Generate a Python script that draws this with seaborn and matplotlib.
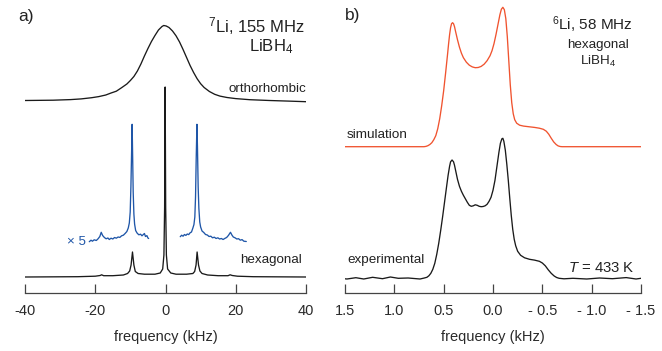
import matplotlib
matplotlib.use("Agg")
import matplotlib.pyplot as plt
import numpy as np
import seaborn as sns

# ---- data (frequency in kHz, intensity in arbitrary units) ----
ortho_khz = [-40, -32, -27, -24, -21, -19, -17, -15.5, -14, -12.5, -11, -10, -9, -8, -7, -6,
             -5, -4, -3, -2, -1, -0.5, 0.2, 1, 2, 3, 4, 5, 6, 7, 8, 9, 10, 11, 12.5, 14,
             15.5, 17.5, 20, 24, 29.6, 35, 40]
ortho_int = [0.0, 0.3, 0.9, 1.6, 2.8, 3.9, 5.5, 7.5, 9.3, 12.8, 16.5, 20.0, 24.0, 29.5, 36.5, 44.5,
             52.0, 59.0, 65.0, 70.5, 74.0, 75.0, 74.5, 73.0, 69.5, 64.7, 58.5, 51.0, 43.0, 35.0, 28.0, 21.8, 16.8, 13.0, 9.0, 6.2,
             4.4, 3.0, 1.9, 0.8, 0.0, -0.6, -1.2]

hex_khz = [-40.0, -25.0, -20.0, -18.6, -18.2, -17.6, -15.0, -12.0, -10.8, -10.2, -9.8, -9.4,
           -9.0, -8.6, -7.8, -6.0, -3.0, -1.5, -0.8, -0.45, -0.25, -0.1, 0.05, 0.25, 0.6,
           1.5, 3.0, 6.0, 7.8, 8.3, 8.7, 9.0, 9.4, 9.8, 10.4, 12.0, 15.0, 17.8, 18.4, 19.0,
           20.5, 25.0, 40.0]
hex_int = [0.0, 0.3, 0.8, 1.5, 2.2, 1.3, 1.3, 2.0, 3.5, 6.0, 12.0, 25.0,
           12.0, 5.5, 3.5, 2.8, 2.8, 4.0, 8.0, 22.0, 70.0, 190.0, 70.0, 22.0, 8.0,
           4.0, 2.8, 2.8, 3.5, 5.5, 12.0, 25.0, 12.0, 6.0, 3.5, 2.0, 1.3, 1.3, 2.2, 1.5,
           0.8, 0.3, 0.0]

# x5 expansions of the satellite regions
zoom_left_khz = [-21.7, -21.2, -20.8, -20.3, -19.7, -19.2, -18.7, -18.3, -17.9, -17.4, -16.9,
                 -16.4, -16.0, -15.5, -15.0, -14.5, -14.0, -13.5, -13.0, -12.5, -12.0, -11.5,
                 -11.0, -10.6, -10.3, -10.05, -9.85, -9.65, -9.5, -9.35, -9.2, -9.0, -8.8,
                 -8.5, -8.1, -7.6, -7.1, -6.7, -6.3, -6.0, -5.7, -5.3, -5.0, -4.8]
zoom_left_int = [0.3, 1.8, 0.8, 2.2, 1.5, 3.2, 5.5, 9.7, 6.5, 4.5, 3.2,
                 4.0, 2.5, 3.8, 3.0, 4.5, 3.8, 5.0, 4.6, 6.2, 6.8, 8.5,
                 10.5, 14.0, 19.0, 30.0, 55.0, 90.0, 117.7, 85.0, 50.0, 28.0, 18.0,
                 11.5, 9.0, 7.2, 7.8, 6.2, 7.5, 8.5, 5.5, 6.4, 4.0, 3.5]
zoom_right_khz = [4.2, 4.6, 5.0, 5.4, 5.8, 6.2, 6.6, 7.0, 7.4, 7.8, 8.1, 8.35, 8.55, 8.75,
                  8.95, 9.1, 9.3, 9.5, 9.75, 10.0, 10.4, 10.9, 11.4, 11.9, 12.4, 12.9, 13.4,
                  13.9, 14.4, 14.9, 15.4, 15.9, 16.4, 16.9, 17.4, 17.9, 18.5, 18.9, 19.3,
                  19.8, 20.3, 20.8, 21.3, 21.8, 22.3, 23.0]
zoom_right_int = [5.3, 6.8, 5.8, 7.5, 6.6, 8.0, 7.4, 9.2, 10.0, 14.0, 17.5, 25.0, 45.0, 85.0,
                  117.7, 95.0, 55.0, 33.7, 20.0, 15.0, 11.0, 9.5, 7.5, 7.0, 5.5, 5.8, 4.2,
                  4.8, 3.5, 4.2, 3.0, 3.5, 2.5, 3.6, 4.5, 6.5, 9.7, 7.0, 5.0,
                  4.2, 3.0, 3.3, 1.8, 2.4, 0.8, 0.5]

sim_khz = [1.5, 0.70, 0.68, 0.66, 0.64, 0.62, 0.60, 0.58, 0.56, 0.54, 0.52, 0.50, 0.48, 0.46,
           0.45, 0.44, 0.43, 0.42, 0.41, 0.40, 0.39, 0.38, 0.36, 0.34, 0.32, 0.30, 0.27,
           0.24, 0.21, 0.18, 0.15, 0.12, 0.09, 0.06, 0.03, 0.01, -0.01, -0.03, -0.05,
           -0.07, -0.085, -0.10, -0.115, -0.13, -0.145, -0.16, -0.175, -0.19, -0.205,
           -0.22, -0.24, -0.27, -0.31, -0.36, -0.42, -0.47, -0.51, -0.54, -0.565, -0.59,
           -0.615, -0.64, -0.66, -0.68, -0.70, -1.5]
sim_int = [0.0, 0.0, 0.3, 1.0, 2.2, 4.0, 7.0, 11.0, 18.0, 28.0, 41.0, 56.0, 74.0, 93.0,
           103.0, 112.0, 119.0, 123.0, 124.0, 123.0, 120.0, 115.5, 107.0, 99.5, 93.5, 89.0, 84.5,
           81.5, 79.8, 79.0, 79.2, 80.3, 82.5, 86.0, 91.0, 96.0, 103.0, 112.0, 122.0,
           132.0, 137.5, 139.4, 137.0, 128.0, 110.0, 86.0, 62.0, 44.0, 33.0,
           27.0, 23.5, 21.5, 20.6, 20.0, 19.3, 18.5, 17.4, 15.5, 12.5, 8.5,
           4.8, 2.2, 0.8, 0.2, 0.0, 0.0]

exp_khz = [1.5, 1.48, 1.39, 1.31, 1.22, 1.12, 1.04, 0.96, 0.86, 0.74, 0.70, 0.67, 0.65,
           0.63, 0.61, 0.59, 0.57, 0.55, 0.53, 0.51, 0.49, 0.47, 0.455, 0.44, 0.43, 0.415,
           0.40, 0.39, 0.375, 0.36, 0.34, 0.32, 0.30, 0.28, 0.26, 0.24, 0.22, 0.20, 0.18,
           0.16, 0.14, 0.12, 0.10, 0.08, 0.06, 0.04, 0.02, 0.0, -0.02, -0.04, -0.06,
           -0.075, -0.09, -0.10, -0.11, -0.125, -0.14, -0.155, -0.17, -0.185, -0.20,
           -0.215, -0.23, -0.25, -0.28, -0.32, -0.37, -0.42, -0.47, -0.50, -0.53, -0.56,
           -0.59, -0.62, -0.645, -0.67, -0.72, -0.81, -0.95, -1.08, -1.21, -1.35, -1.45,
           -1.5]
exp_int = [-0.5, -0.7, 0.6, -0.7, 1.0, -0.4, 1.3, 0.0, 0.3, -0.7, 0.2, 1.0, 2.5,
           5.0, 9.0, 15.0, 24.0, 35.0, 48.0, 62.0, 77.0, 92.0, 103.0, 112.0, 116.5, 118.3,
           116.5, 113.0, 106.0, 99.0, 92.0, 87.0, 83.0, 79.5, 76.0, 73.0, 72.0, 72.5, 73.5,
           73.0, 72.0, 71.6, 71.8, 72.5, 74.0, 77.0, 81.0, 88.0, 98.0, 112.0, 126.0,
           135.0, 139.5, 140.0, 137.0, 128.0, 114.0, 98.0, 80.0, 63.0, 49.0,
           39.0, 32.5, 27.0, 23.0, 20.5, 19.0, 18.2, 17.0, 15.3, 12.5, 8.5,
           5.0, 2.3, 0.8, 0.0, -0.5, 0.0, -0.7, 0.3, -0.4, 0.7, -0.7,
           0.0]

left_ticks = [-40, -20, 0, 20, 40]
left_ticklabels = ["-40", "-20", "0", "20", "40"]
right_ticks = [1.5, 1.0, 0.5, 0.0, -0.5, -1.0, -1.5]
right_ticklabels = ["1.5", "1.0", "0.5", "0.0", "- 0.5", "- 1.0", "- 1.5"]

# ---- style ----
sns.set_style("white")
plt.rcParams["font.family"] = ["Liberation Sans", "DejaVu Sans"]
plt.rcParams["mathtext.fontset"] = "custom"
plt.rcParams["mathtext.rm"] = "Liberation Sans"
plt.rcParams["mathtext.it"] = "Liberation Sans:italic"

W, H = 662, 351
fig = plt.figure(figsize=(W / 100, H / 100), dpi=100)


def px(x, y):
    return x / W, 1 - y / H


TOP = 293.3  # axis line, pixels from top
ax1 = fig.add_axes([25 / W, (H - TOP) / H, 281 / W, TOP / H])
ax2 = fig.add_axes([345 / W, (H - TOP) / H, 296 / W, TOP / H])

black = "#1a1a1a"
blue = "#1f56a8"
red = "#f0532f"
lw = 0.95

sns.lineplot(x=ortho_khz, y=np.array(ortho_int) + 192.8, ax=ax1, color=black, lw=lw,
             sort=False, estimator=None)
sns.lineplot(x=hex_khz, y=np.array(hex_int) + 16.3, ax=ax1, color=black, lw=lw,
             sort=False, estimator=None)
sns.lineplot(x=zoom_left_khz, y=np.array(zoom_left_int) + 51.3, ax=ax1, color=blue, lw=lw,
             sort=False, estimator=None)
sns.lineplot(x=zoom_right_khz, y=np.array(zoom_right_int) + 51.3, ax=ax1, color=blue, lw=lw,
             sort=False, estimator=None)

sns.lineplot(x=sim_khz, y=np.array(sim_int) + 146.6, ax=ax2, color=red, lw=lw,
             sort=False, estimator=None)
sns.lineplot(x=exp_khz, y=np.array(exp_int) + 15.0, ax=ax2, color=black, lw=lw,
             sort=False, estimator=None)

for ax, lim, ticks, labels in [(ax1, (-40, 40), left_ticks, left_ticklabels),
                               (ax2, (1.5, -1.5), right_ticks, right_ticklabels)]:
    ax.set_xlim(*lim)
    ax.set_ylim(0, TOP)
    ax.set_facecolor("none")
    for s in ["top", "left", "right"]:
        ax.spines[s].set_visible(False)
    ax.spines["bottom"].set_color("#444444")
    ax.spines["bottom"].set_linewidth(0.9)
    ax.set_yticks([])
    ax.set_xticks(ticks)
    ax.set_xticklabels(labels)
    ax.tick_params(axis="x", direction="in", length=6.5, width=0.9, color="#444444",
                   pad=8, labelsize=10.5, labelcolor="#2a2a2a", bottom=True)
    ax.set_xlabel("frequency (kHz)", fontsize=10.5, color="#2a2a2a", labelpad=8)
    ax.set_ylabel("")

tc = "#222222"
fig.text(*px(18, 17), "a)", fontsize=12.5, color=tc, va="center", ha="left")
fig.text(*px(256, 32.7), "$^{7}$Li, 155 MHz", fontsize=12, color=tc, ha="center", va="baseline")
fig.text(*px(271, 51), "LiBH$_{4}$", fontsize=12, color=tc, ha="center", va="baseline")
fig.text(*px(306, 91.5), "orthorhombic", fontsize=9.6, color=tc, ha="right", va="baseline")
fig.text(*px(302, 262.7), "hexagonal", fontsize=9.6, color=tc, ha="right", va="baseline")
fig.text(*px(67, 245), "× 5", fontsize=9.6, color=blue, ha="left", va="baseline")

fig.text(*px(345, 15.5), "b)", fontsize=12.5, color=tc, va="center", ha="left")
fig.text(*px(592.5, 30), "$^{6}$Li, 58 MHz", fontsize=11, color=tc, ha="center", va="baseline")
fig.text(*px(597.5, 47.7), "hexagonal", fontsize=9.6, color=tc, ha="center", va="baseline")
fig.text(*px(598, 65), "LiBH$_{4}$", fontsize=9.6, color=tc, ha="center", va="baseline")
fig.text(*px(347, 137.7), "simulation", fontsize=9.7, color=tc, ha="left", va="baseline")
fig.text(*px(347, 263.3), "experimental", fontsize=9.7, color=tc, ha="left", va="baseline")
fig.text(*px(635, 272.3), "$T$ = 433 K", fontsize=10.7, color=tc, ha="right", va="baseline")

fig.savefig("out.png", dpi=100)
